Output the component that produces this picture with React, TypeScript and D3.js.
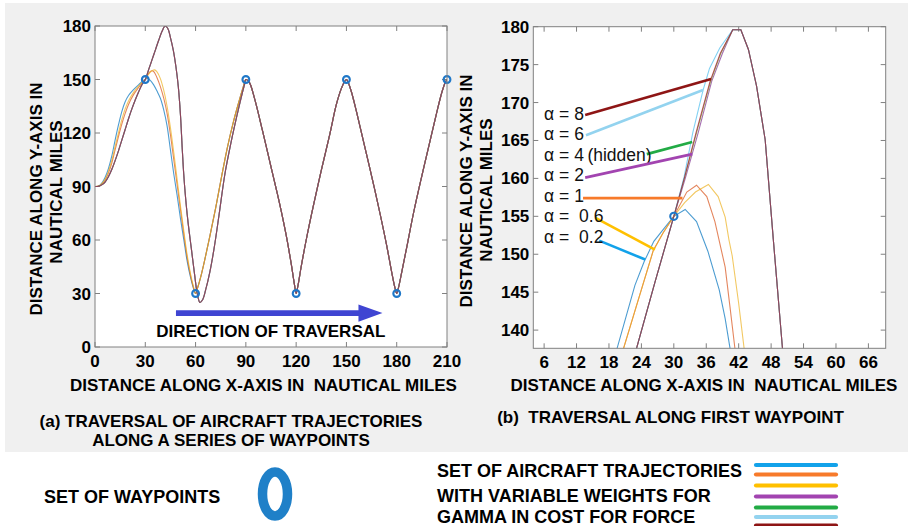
import React from 'react';
import * as d3 from 'd3';

type P = [number, number];

// ---------- Panel (a) data ----------
const leftXTicks = [0, 30, 60, 90, 120, 150, 180, 210];
const leftYTicks = [0, 30, 60, 90, 120, 150, 180];
const waypointX = [30, 60, 90, 120, 150, 180, 210];
const waypointY = [150, 30, 150, 30, 150, 30, 150];

const leftBlueHead: P[] = [[0, 90], [1.5, 90.1], [3, 90.8], [4.5, 92.5], [6, 95], [8, 100], [10, 107], [12, 116], [14, 124.5], [16, 132], [18, 137.5], [20, 141], [23, 144.3], [26, 147], [28.5, 149.2], [30, 150], [31.2, 150.6], [33, 149.5], [35, 147], [37, 143.5], [39, 139.5], [41, 133], [43, 124], [45, 110.5], [47, 97], [49, 85], [51, 72], [53, 60], [55, 48], [57, 39], [58.7, 33]];
const leftOrangeHead: P[] = [[0, 90], [1.5, 90.1], [3, 90.6], [4.5, 91.8], [6, 93.5], [8, 97.5], [10, 103], [12, 110.5], [14, 118], [16, 125], [18, 131], [20, 136], [23, 141.5], [26, 145.5], [28.5, 148.5], [30, 150], [31.5, 152.8], [33.5, 154.8], [35, 154.5], [37, 151], [39, 146], [41, 139.5], [43, 131], [45, 119], [47, 105], [49, 91], [51, 77], [53, 63], [55, 50], [57, 40], [58.7, 33.5]];
const leftYellowHead: P[] = [[0, 90], [1.5, 90.1], [3, 90.7], [4.5, 92], [6, 94], [8, 98.5], [10, 104.5], [12, 112.5], [14, 120], [16, 127.5], [18, 133.5], [20, 138], [23, 142.8], [26, 146.3], [28.5, 148.8], [30, 150], [31.5, 152.3], [33.5, 154.6], [35.5, 155.4], [37, 154.3], [39, 150.5], [41, 144], [43, 135], [45, 123], [47, 109], [49, 94], [51, 79], [53, 65], [55, 51.5], [57, 41], [58.7, 34]];
const leftLowRise: P[] = [[60, 30], [61, 32.5], [63, 39], [65.5, 49], [68.5, 62], [72, 78], [75.6, 96], [79, 112], [82.5, 126], [86, 138], [88.5, 146]];
const leftHighHead: P[] = [[0, 90], [1.5, 90], [3, 90.4], [4.5, 91.2], [6, 92.5], [8, 95.5], [10, 99.5], [12, 104.5], [14, 110], [16, 116], [18, 122], [20, 128], [22, 133.5], [24, 138.5], [26, 143], [28, 147], [30, 150], [32, 155.5], [34, 161], [36, 166.5], [38, 172], [40, 177], [41.8, 180], [43.5, 178.5], [45, 173.5], [46.7, 166.5], [48.3, 157], [49.7, 146], [51, 130], [52, 112], [53, 96], [54.2, 82], [55.5, 70], [57.5, 55], [59.5, 40], [61, 30], [62.6, 25], [64.2, 26.5], [66, 32], [68.5, 42], [71, 55], [74, 74], [77.5, 97], [81, 114], [84.5, 129], [87.5, 141], [89.3, 147.5]];
const leftTail: P[] = [[90, 150], [92, 148.5], [95, 140], [100, 121], [105, 101], [110, 81], [114, 63], [117, 47], [119, 35], [120, 30], [121, 34], [123, 45], [126, 60], [130, 78], [135, 99], [140, 119], [144, 136], [147, 145], [149, 149], [150, 150], [151, 148.5], [153, 143], [156, 132], [160, 116], [165, 96], [170, 75], [174, 57], [177, 42], [179, 33], [180, 30], [181, 33], [183, 42], [186, 56], [190, 75], [195, 96], [200, 116], [204, 132], [207, 143], [209, 148.5], [210, 150]];

// arrow (data units)
const arrowFrom: P = [48.3, 19];
const arrowTo: P = [171.5, 19];

// ---------- Panel (b) data ----------
const rightXTicks = [6, 12, 18, 24, 30, 36, 42, 48, 54, 60, 66];
const rightYTicks = [140, 145, 150, 155, 160, 165, 170, 175, 180];
const rightWaypoint: P = [30, 155];

const rightBlue: P[] = [[18, 134], [19.5, 137.6], [22.8, 145.9], [24.5, 149], [26.3, 151.7], [28.2, 153.4], [30, 155], [32.1, 155.9], [34.2, 154.3], [36.3, 150.4], [38.4, 145.3], [39.5, 141.5], [40.4, 137.6], [41, 135]];
const rightOrange: P[] = [[19.5, 135], [20.7, 137.6], [23, 143], [26.2, 150.5], [28, 152.8], [30, 155], [32.4, 158.2], [34.2, 159.1], [36.1, 157.6], [37.6, 154.3], [39.5, 148.3], [40.4, 143], [41.3, 137.6], [41.8, 134]];
const rightYellow: P[] = [[19.5, 135], [20.7, 137.6], [23, 143], [26.2, 150.5], [28, 152.8], [30, 155], [32, 156.8], [34, 158.2], [36.4, 159.2], [38.2, 157.6], [39.5, 154.9], [40.2, 151.9], [40.8, 149.8], [42, 143.5], [43, 137.6], [43.5, 135]];
const rightLower: P[] = [[21.5, 133], [23.1, 137.6], [26.5, 146.3]];
const rightDescent: P[] = [[42.4, 179.6], [43.8, 177], [45.3, 172.2], [46.9, 165.1], [48.4, 152], [50.1, 137.6], [50.5, 134]];
const rightPurpleUp: P[] = [[30, 155], [32.2, 160.2], [34.5, 166], [37, 172.8], [39, 176.5], [40.9, 179.6]];
const rightGreenUp: P[] = [[30, 155], [32.1, 160.4], [34.2, 166], [36.8, 172.8], [38.7, 176.5], [40.9, 179.6]];
const rightLightBlueUp: P[] = [[30, 155], [31.9, 160.2], [33.5, 166], [35.4, 171.6], [36.6, 174.5], [38.5, 177.2], [40.9, 179.6]];
const rightDarkRedUp: P[] = [[30, 155], [32, 160.2], [34.1, 166], [36.7, 172.8], [38.6, 176.5], [40.9, 179.6]];

// annotations for panel (b), top to bottom
const alphaLabels = ['α = 8', 'α = 6', 'α = 4\u2009(hidden)', 'α = 2', 'α = 1', 'α =\u00a0 0.6', 'α =\u00a0 0.2'];
const alphaTextY = [167.7, 165.0, 162.3, 159.6, 156.9, 154.2, 151.5];
const alphaTextX = 6.0;
const leaderFrom: P[] = [[13.6, 168.35], [13.75, 165.7], [25.0, 163.2], [13.6, 160.1], [13.2, 157.4], [15.5, 154.8], [16.2, 151.8]];
const leaderTo: P[] = [[36.9, 173.1], [35.4, 171.65], [33.4, 164.8], [33.4, 163.2], [31.6, 157.4], [26.5, 150.6], [24.7, 149.3]];
const leaderColors = ['#8e1515', '#93d3ef', '#22ab45', '#a244b0', '#f77a2a', '#ffc000', '#12a2ea'];

// trajectory colours (plot order: α=0.2, 1, 0.6, 2, 4, 6, 8)
const lineColors = ['#0072BD', '#D95319', '#EDB120', '#7E2F8E', '#77AC30', '#4DBEEE', '#A2142F'];
const legendColors = ['#12a2ea', '#f77a2a', '#ffc000', '#a244b0', '#22ab45', '#93d3ef', '#8e1515'];

const FONT = "'Liberation Sans', Arial, Helvetica, sans-serif";
const AXIS = '#808080';

type Sc = d3.ScaleLinear<number, number>;

function Frame({ x, y, xt, yt, tickLen = 5 }: { x: Sc; y: Sc; xt: number[]; yt: number[]; tickLen?: number }) {
  const [x0, x1] = x.range();
  const [y1, y0] = y.range();
  return (
    <g>
      <rect x={x0} y={y0} width={x1 - x0} height={y1 - y0} fill="#fff" stroke="none" />
      {xt.map((t) => (
        <g key={'x' + t}>
          <line x1={x(t)} x2={x(t)} y1={y1} y2={y1 - tickLen} stroke={AXIS} />
          <line x1={x(t)} x2={x(t)} y1={y0} y2={y0 + tickLen} stroke={AXIS} />
          <text x={x(t)} y={y1 + 20} textAnchor="middle" fontFamily={FONT} fontWeight="bold" fontSize={17} fill="#000">{t}</text>
        </g>
      ))}
      {yt.map((t) => (
        <g key={'y' + t}>
          <line x1={x0} x2={x0 + tickLen} y1={y(t)} y2={y(t)} stroke={AXIS} />
          <line x1={x1} x2={x1 - tickLen} y1={y(t)} y2={y(t)} stroke={AXIS} />
          <text x={x0 - 4} y={y(t) + 6} textAnchor="end" fontFamily={FONT} fontWeight="bold" fontSize={17} fill="#000">{t}</text>
        </g>
      ))}
    </g>
  );
}

function Border({ x, y }: { x: Sc; y: Sc }) {
  const [x0, x1] = x.range();
  const [y1, y0] = y.range();
  return <rect x={x0} y={y0} width={x1 - x0} height={y1 - y0} fill="none" stroke={AXIS} strokeWidth={1} />;
}

export default function App() {
  const xL = d3.scaleLinear().domain([0, 210]).range([95, 447]);
  const yL = d3.scaleLinear().domain([0, 180]).range([347, 26]);
  const xR = d3.scaleLinear().domain([4, 69.2]).range([533.3, 885.7]);
  const yR = d3.scaleLinear().domain([137.6, 180]).range([348.3, 26.7]);

  const smoothL = d3.line<P>().x((d) => xL(d[0])).y((d) => yL(d[1])).curve(d3.curveCatmullRom.alpha(0.5));
  const polyR = d3.line<P>().x((d) => xR(d[0])).y((d) => yR(d[1]));

  const lowHeads = [leftBlueHead, leftOrangeHead, leftYellowHead];
  const leftCurves: P[][] = [
    ...lowHeads.map((h) => [...h, ...leftLowRise, ...leftTail]),
    ...[0, 1, 2, 3].map(() => [...leftHighHead, ...leftTail]),
  ];

  const highUps = [rightPurpleUp, rightGreenUp, rightLightBlueUp, rightDarkRedUp];
  const rightCurves: P[][] = [
    rightBlue,
    rightOrange,
    rightYellow,
    ...highUps.map((u) => [...rightLower, ...u, ...rightDescent]),
  ];

  const ay = yL(arrowFrom[1]);
  const axs = xL(arrowFrom[0]);
  const axe = xL(arrowTo[0]);
  const headLen = 24;
  const headHalf = 8.7;
  const bodyHalf = 2.9;

  const legendLineY = [465, 474.5, 485.5, 496.5, 507.5, 517, 525.5];

  return (
    <svg width={910} height={526} style={{ position: 'absolute', left: 0, top: 0 }} xmlns="http://www.w3.org/2000/svg">
      <defs>
        <clipPath id="clipL"><rect x={95} y={26} width={352} height={321} /></clipPath>
        <clipPath id="clipR"><rect x={533.3} y={26.7} width={352.4} height={321.6} /></clipPath>
      </defs>
      <rect x={0} y={0} width={910} height={526} fill="#fff" />
      <rect x={5} y={3} width={903} height={449} fill="#f0f0f0" />

      {/* ---------- Panel (a) ---------- */}
      <Frame x={xL} y={yL} xt={leftXTicks} yt={leftYTicks} />
      <g clipPath="url(#clipL)">
        {leftCurves.map((c, i) => (
          <path key={i} d={smoothL(c) || ''} fill="none" stroke={lineColors[i]} strokeWidth={1.1} strokeOpacity={0.7} />
        ))}
      </g>
      {waypointX.map((wx, i) => (
        <circle key={i} cx={xL(wx)} cy={yL(waypointY[i])} r={3.4} fill="none" stroke="#1f78c8" strokeWidth={2.1} />
      ))}
      <path
        d={`M${axs},${ay - bodyHalf}L${axe - headLen},${ay - bodyHalf}L${axe - headLen},${ay - headHalf}L${axe},${ay}L${axe - headLen},${ay + headHalf}L${axe - headLen},${ay + bodyHalf}L${axs},${ay + bodyHalf}Z`}
        fill="#3f45d2"
      />
      <text x={270.8} y={337} textAnchor="middle" fontFamily={FONT} fontWeight="bold" fontSize={17} fill="#000">DIRECTION OF TRAVERSAL</text>
      <Border x={xL} y={yL} />
      <text x={263.5} y={391} textAnchor="middle" fontFamily={FONT} fontWeight="bold" fontSize={17} fill="#000" style={{ whiteSpace: 'pre' }}>DISTANCE ALONG X-AXIS IN  NAUTICAL MILES</text>
      <text transform="translate(42,199) rotate(-90)" textAnchor="middle" fontFamily={FONT} fontWeight="bold" fontSize={17} fill="#000">DISTANCE ALONG Y-AXIS IN</text>
      <text transform="translate(62,192) rotate(-90)" textAnchor="middle" fontFamily={FONT} fontWeight="bold" fontSize={17} fill="#000">NAUTICAL MILES</text>
      <text x={231} y={427} textAnchor="middle" fontFamily={FONT} fontWeight="bold" fontSize={17} fill="#000">(a) TRAVERSAL OF AIRCRAFT TRAJECTORIES</text>
      <text x={231} y={446} textAnchor="middle" fontFamily={FONT} fontWeight="bold" fontSize={17} fill="#000">ALONG A SERIES OF WAYPOINTS</text>

      {/* ---------- Panel (b) ---------- */}
      <Frame x={xR} y={yR} xt={rightXTicks} yt={rightYTicks} />
      <g clipPath="url(#clipR)">
        {rightCurves.map((c, i) => (
          <path key={i} d={polyR(c) || ''} fill="none" stroke={lineColors[i]} strokeWidth={1.1} strokeOpacity={0.7} />
        ))}
      </g>
      <circle cx={xR(rightWaypoint[0])} cy={yR(rightWaypoint[1])} r={3.6} fill="none" stroke="#1f78c8" strokeWidth={2.1} />
      {alphaLabels.map((lab, i) => (
        <g key={lab}>
          <line x1={xR(leaderFrom[i][0])} y1={yR(leaderFrom[i][1])} x2={xR(leaderTo[i][0])} y2={yR(leaderTo[i][1])} stroke={leaderColors[i]} strokeWidth={2.6} />
          <text x={xR(alphaTextX)} y={yR(alphaTextY[i])} fontFamily={FONT} fontSize={17.5} fill="#111">{lab}</text>
        </g>
      ))}
      <Border x={xR} y={yR} />
      <text x={704} y={391} textAnchor="middle" fontFamily={FONT} fontWeight="bold" fontSize={17} fill="#000" style={{ whiteSpace: 'pre' }}>DISTANCE ALONG X-AXIS IN  NAUTICAL MILES</text>
      <text transform="translate(472,191) rotate(-90)" textAnchor="middle" fontFamily={FONT} fontWeight="bold" fontSize={17} fill="#000">DISTANCE ALONG Y-AXIS IN</text>
      <text transform="translate(492,190) rotate(-90)" textAnchor="middle" fontFamily={FONT} fontWeight="bold" fontSize={17} fill="#000">NAUTICAL MILES</text>
      <text x={670.5} y={423} textAnchor="middle" fontFamily={FONT} fontWeight="bold" fontSize={17} fill="#000" style={{ whiteSpace: 'pre' }}>(b)  TRAVERSAL ALONG FIRST WAYPOINT</text>

      {/* ---------- Legend ---------- */}
      <text x={44} y={503} fontFamily={FONT} fontWeight="bold" fontSize={18} fill="#000">SET OF WAYPOINTS</text>
      <ellipse cx={275} cy={494} rx={12.5} ry={22} fill="none" stroke="#1f80c8" strokeWidth={9.5} />
      <text x={437} y={477} fontFamily={FONT} fontWeight="bold" fontSize={18} fill="#000">SET OF AIRCRAFT TRAJECTORIES</text>
      <text x={437} y={502} fontFamily={FONT} fontWeight="bold" fontSize={18} fill="#000">WITH VARIABLE WEIGHTS FOR</text>
      <text x={437} y={523} fontFamily={FONT} fontWeight="bold" fontSize={18} fill="#000">GAMMA IN COST FOR FORCE</text>
      {legendColors.map((c, i) => (
        <line key={c} x1={756} x2={836} y1={legendLineY[i]} y2={legendLineY[i]} stroke={c} strokeWidth={4.2} strokeLinecap="round" />
      ))}
    </svg>
  );
}
